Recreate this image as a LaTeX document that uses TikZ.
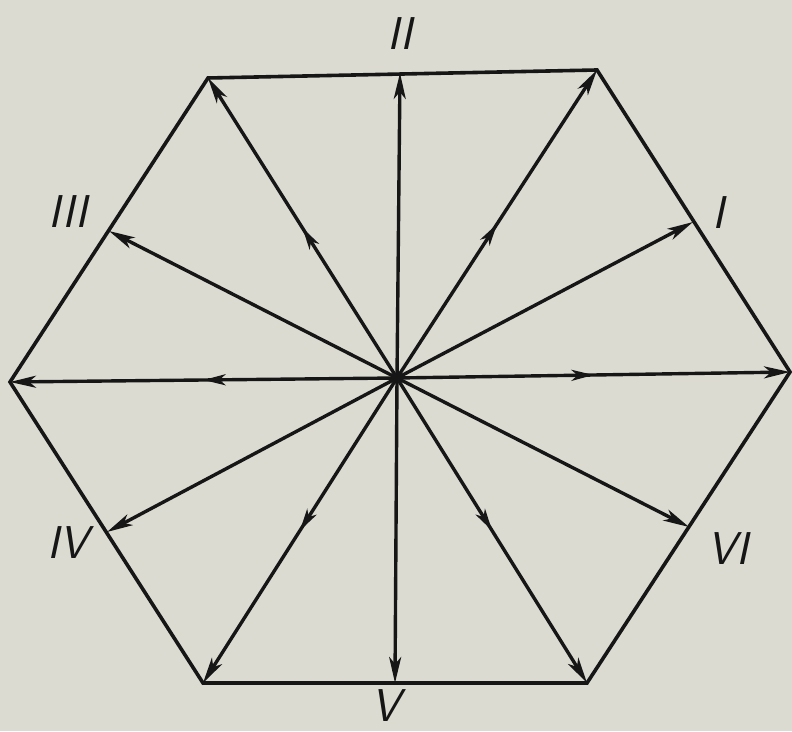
\documentclass[tikz,border=0pt]{standalone}
\usetikzlibrary{arrows.meta,decorations.markings}
\definecolor{paper}{RGB}{220,219,210}
\definecolor{ink}{RGB}{22,22,22}
\begin{document}
\begin{tikzpicture}[x=1pt,y=1pt,
  edge/.style={ink,line width=3.6pt,line join=miter},
  vec/.style={ink,line width=3.4pt,-{Stealth[length=26pt,width=12pt,inset=7pt]}},
  vecmid/.style={vec,postaction={decorate},decoration={markings,
     mark=at position 0.5 with {\arrow{Stealth[length=22pt,width=11pt,inset=6pt]}}}},
  lbl/.style={ink,font=\fontsize{46}{46}\sffamily\itshape,inner sep=0pt}]
\fill[paper] (0,0) rectangle (792,731);
\useasboundingbox (0,0) rectangle (792,731);
% hexagon vertices (pixel y flipped)
\coordinate (TL) at (208,653);
\coordinate (TR) at (597,661);
\coordinate (R)  at (790,359);
\coordinate (BR) at (587,48);
\coordinate (BL) at (203,48);
\coordinate (L)  at (10,349);
\coordinate (O)  at (397,353);
% edge midpoints
\coordinate (MII)  at (400,658);
\coordinate (MI)   at (693,509);
\coordinate (MVI)  at (689,204);
\coordinate (MV)   at (395,48);
\coordinate (MIV)  at (107,199);
\coordinate (MIII) at (109,500);
\draw[edge] (TL) -- (TR) -- (R) -- (BR) -- (BL) -- (L) -- cycle;
% vectors to vertices
\draw[vecmid] (O) -- (TL);
\draw[vecmid] (O) -- (TR);
\draw[vecmid] (O) -- (R);
\draw[vecmid] (O) -- (BR);
\draw[vecmid] (O) -- (BL);
\draw[vecmid] (O) -- (L);
% vectors to edge midpoints
\draw[vec] (O) -- (MII);
\draw[vec] (O) -- (MI);
\draw[vec] (O) -- (MVI);
\draw[vec] (O) -- (MV);
\draw[vec] (O) -- (MIV);
\draw[vec] (O) -- (MIII);
\fill[ink] (O) circle (4pt);
% labels
\node[lbl] (lII)  at (400,697) {II};
\node[lbl] (lI)   at (718,518) {I};
\node[lbl] (lIII) at (68,519) {III};
\node[lbl] (lIV)  at (68,188) {IV};
\node[lbl] (lV)   at (386,25) {V};
\node[lbl] (lVI)  at (728,182) {VI};
\end{tikzpicture}
\end{document}
